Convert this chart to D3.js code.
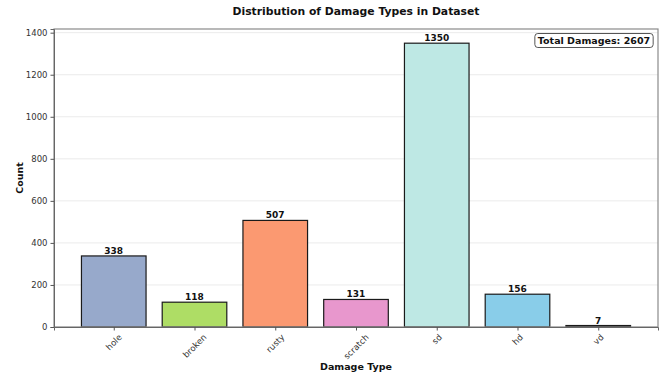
<!DOCTYPE html>
<html>
<head>
<meta charset="utf-8">
<script src="https://cdn.jsdelivr.net/npm/d3@7"></script>
<style>
  html, body { margin: 0; padding: 0; background: #fff; }
  text { font-family: "DejaVu Sans", sans-serif; }
</style>
</head>
<body>
<svg id="chart" width="662" height="379"></svg>
<script>
// Damage counts per category
const categories = ["hole", "broken", "rusty", "scratch", "sd", "hd", "vd"];
const counts = [338, 118, 507, 131, 1350, 156, 7];
const barColors = ["#97a9cb", "#aedd65", "#fb9971", "#e897cd", "#bee8e4", "#89cde9", "#222222"];
const yTicks = [0, 200, 400, 600, 800, 1000, 1200, 1400];

const svg = d3.select("#chart");
const margin = { left: 54, right: 4, top: 29, bottom: 52 };
const W = 662, H = 379;
const plotW = W - margin.left - margin.right;
const plotH = H - margin.top - margin.bottom;

const g = svg.append("g").attr("transform", `translate(${margin.left},${margin.top})`);

// Continuous x in bar-index units, with matplotlib-like margins
const x = d3.scaleLinear().domain([-0.74, categories.length - 1 + 0.74]).range([0, plotW]);
const y = d3.scaleLinear().domain([0, d3.max(counts) * 1.05]).range([plotH, 0]);
const barW = 0.8;

// Horizontal grid
g.append("g").selectAll("line").data(yTicks).join("line")
  .attr("x1", 0).attr("x2", plotW)
  .attr("y1", d => y(d)).attr("y2", d => y(d))
  .attr("stroke", "#e6e6e6").attr("stroke-width", 0.8);

// Bars
g.append("g").selectAll("rect").data(counts).join("rect")
  .attr("x", (d, i) => x(i - barW / 2))
  .attr("width", (d, i) => x(i + barW / 2) - x(i - barW / 2))
  .attr("y", d => y(d))
  .attr("height", d => y(0) - y(d))
  .attr("fill", (d, i) => barColors[i])
  .attr("stroke", "#1a1a1a").attr("stroke-width", 1.2);

// Value labels
g.append("g").selectAll("text").data(counts).join("text")
  .attr("x", (d, i) => x(i))
  .attr("y", d => y(d) - 2)
  .attr("text-anchor", "middle")
  .attr("font-size", 9).attr("font-weight", "bold").attr("fill", "#111")
  .text(d => d);

// Frame
g.append("rect").attr("x", 0).attr("y", 0).attr("width", plotW).attr("height", plotH)
  .attr("fill", "none").attr("stroke", "#8a8a8a").attr("stroke-width", 1.2);

// Y axis
const yAxis = g.append("g").call(d3.axisLeft(y).tickValues(yTicks).tickFormat(d3.format("d")).tickSize(3.5).tickPadding(3));
yAxis.select(".domain").attr("stroke", "#666");
yAxis.selectAll(".tick line").attr("stroke", "#555");
yAxis.selectAll("text").attr("font-size", 8.5).attr("fill", "#333").attr("font-family", "DejaVu Sans, sans-serif");

// X axis with rotated category labels, centred on each tick
const xAxis = g.append("g").attr("transform", `translate(0,${plotH})`)
  .call(d3.axisBottom(x).tickValues(d3.range(categories.length)).tickFormat(i => categories[i]).tickSize(3.5));
xAxis.select(".domain").attr("stroke", "#666");
xAxis.selectAll(".tick line").attr("stroke", "#555");
xAxis.selectAll("text")
  .attr("font-size", 8.5).attr("fill", "#333").attr("font-family", "DejaVu Sans, sans-serif")
  .attr("text-anchor", "middle").attr("dy", null)
  .attr("y", 0)
  .attr("dominant-baseline", "middle")
  .attr("transform", function () {
    const len = this.getComputedTextLength();
    const half = (len + 8.5) * Math.SQRT1_2 / 2;
    return `translate(0,${half + 6}) rotate(-45)`;
  });

// Titles
svg.append("text").attr("x", margin.left + plotW / 2).attr("y", 15)
  .attr("text-anchor", "middle").attr("font-size", 10.8).attr("font-weight", "bold").attr("fill", "#111")
  .text("Distribution of Damage Types in Dataset");
svg.append("text").attr("x", margin.left + plotW / 2).attr("y", 370)
  .attr("text-anchor", "middle").attr("font-size", 9.5).attr("font-weight", "bold").attr("fill", "#111")
  .text("Damage Type");
svg.append("text").attr("transform", `translate(23,${margin.top + plotH / 2}) rotate(-90)`)
  .attr("text-anchor", "middle").attr("font-size", 9.5).attr("font-weight", "bold").attr("fill", "#111")
  .text("Count");

// Total annotation box
const total = d3.sum(counts);
const note = svg.append("g");
const noteText = note.append("text").attr("x", 594).attr("y", 44)
  .attr("text-anchor", "middle").attr("font-size", 9.5).attr("font-weight", "bold").attr("fill", "#111")
  .text(`Total Damages: ${total}`);
const bb = noteText.node().getBBox();
note.insert("rect", "text")
  .attr("x", bb.x - 3).attr("y", bb.y - 1.5).attr("width", bb.width + 6).attr("height", bb.height + 3)
  .attr("rx", 3).attr("fill", "#fff").attr("stroke", "#555").attr("stroke-width", 1);
</script>
</body>
</html>
